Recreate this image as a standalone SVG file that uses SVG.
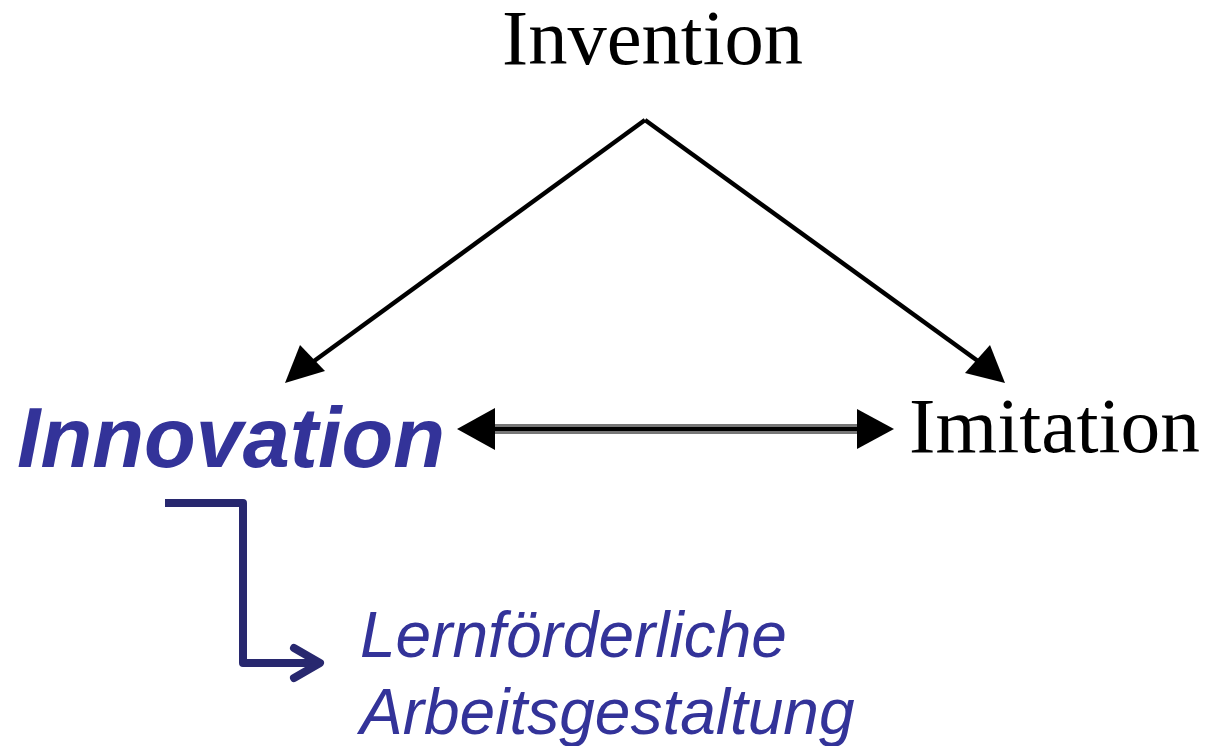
<svg xmlns="http://www.w3.org/2000/svg" width="1209" height="746" viewBox="0 0 1209 746">
  <style>
    .serif { font-family: "Liberation Serif", "Times New Roman", serif; font-size: 78px; fill: #000; }
    .blue { font-family: "Liberation Sans", Arial, sans-serif; font-style: italic; fill: #333399; }
    .line { stroke: #000; stroke-width: 4.5; fill: none; }
  </style>

  <rect width="1209" height="746" fill="#fff"/>

  <g id="connectors">
    <!-- invention to innovation -->
    <line class="line" x1="645" y1="120" x2="310" y2="364"/>
    <polygon points="285,383 300,345 325,371" fill="#000"/>
    <!-- invention to imitation -->
    <line class="line" x1="645" y1="120" x2="982" y2="364"/>
    <polygon points="1005,383 965,373 990,345" fill="#000"/>
    <!-- two-way link innovation / imitation -->
    <line x1="490" y1="429" x2="862" y2="429" stroke="#777" stroke-width="10"/>
    <line x1="490" y1="429" x2="862" y2="429" stroke="#000" stroke-width="4"/>
    <polygon points="457,429 495,408 495,450" fill="#000"/>
    <polygon points="894,429 857,409 857,449" fill="#000"/>
    <!-- innovation to workplace design -->
    <path d="M165,503 H243 V663 H318" fill="none" stroke="#28286f" stroke-width="8" stroke-linejoin="round"/>
    <path d="M294,648 L320,663 L294,678" fill="none" stroke="#28286f" stroke-width="8" stroke-linecap="round" stroke-linejoin="round"/>
  </g>

  <g id="invention">
    <text class="serif" x="502" y="64" textLength="301" lengthAdjust="spacingAndGlyphs">Invention</text>
  </g>
  <g id="imitation">
    <text class="serif" x="909" y="452" textLength="291" lengthAdjust="spacingAndGlyphs">Imitation</text>
  </g>
  <g id="innovation">
    <text class="blue" x="17" y="467" font-size="85" font-weight="bold" textLength="428" lengthAdjust="spacingAndGlyphs">Innovation</text>
  </g>
  <g id="arbeitsgestaltung">
    <text class="blue" x="360" y="657" font-size="64">Lernförderliche</text>
    <text class="blue" x="360" y="734" font-size="64">Arbeitsgestaltung</text>
  </g>
</svg>
